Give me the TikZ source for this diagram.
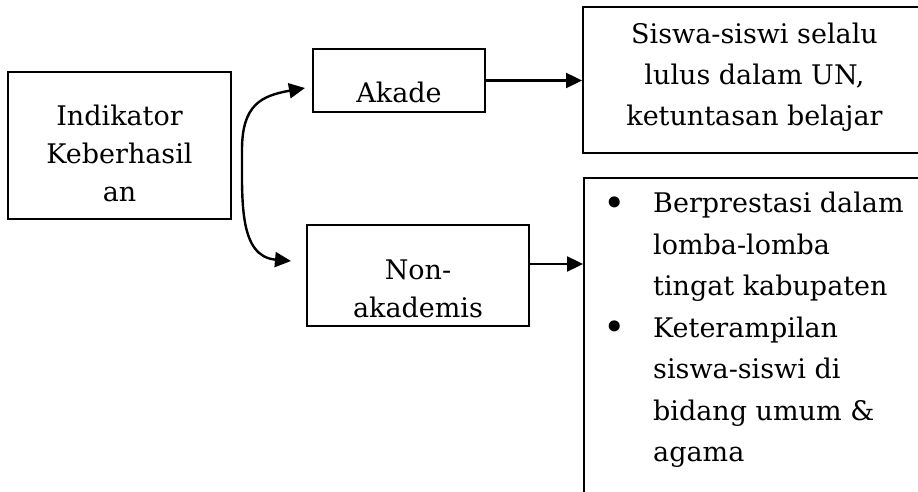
\documentclass[tikz,border=0pt]{standalone}
\usepackage{fontspec}
\setmainfont{DejaVu Serif}
\usetikzlibrary{arrows.meta}

\newcommand{\butir}{\makebox[51pt][l]{\hspace{1pt}{\fontsize{38}{38}\selectfont\raisebox{-3.5pt}{\textbullet}}}}

\begin{document}
\begin{tikzpicture}[x=1pt,y=1pt,>={Triangle[length=16pt,width=15pt]},
  kotak/.style={draw,line width=2pt,inner sep=0pt},
  teks/.style={inner sep=0pt,align=center,font=\fontsize{27}{38}\selectfont},
  panah/.style={->,line width=2.4pt}]
  \useasboundingbox (0,0) rectangle (918,491);
  \clip (0,0) rectangle (918,491);
  \node[kotak,minimum width=223pt,minimum height=147pt,
    label={[teks,yshift=-7.5pt]center:{Indikator\\Keberhasil\\an}}] (1) at (119.5,345.5) {};
  \node[kotak,minimum width=172pt,minimum height=63pt,
    label={[teks,yshift=-11.5pt]center:{Akade}}] (2) at (399,410.5) {};
  \node[kotak,minimum width=222pt,minimum height=101pt,
    label={[teks,yshift=-13.5pt]center:{Non-\\akademis}}] (3) at (418,215.5) {};
  \node[kotak,minimum width=343pt,minimum height=146pt,
    label={[teks,font=\fontsize{27}{41}\selectfont,yshift=3pt]center:{Siswa-siswi selalu\\lulus dalam UN,\\ketuntasan belajar}}] (4) at (754.5,411) {};
  \node[kotak,anchor=north west,minimum width=343pt,minimum height=333pt,
    label={[teks,align=left,font=\fontsize{27}{41.5}\selectfont,anchor=north west,xshift=19pt,yshift=-15pt]north west:{%
      \butir Berprestasi dalam\\
      \hspace*{51pt}lomba-lomba\\
      \hspace*{51pt}tingat kabupaten\\
      \butir Keterampilan\\
      \hspace*{51pt}siswa-siswi di\\
      \hspace*{51pt}bidang umum \&\\
      \hspace*{51pt}agama}}] (5) at (583,314) {};

  \coordinate (pangkal) at ([xshift=10pt,yshift=-4.5pt]1.east);
  \draw[panah] (pangkal) to[out=90,in=190,looseness=1.3] ([xshift=-7pt,yshift=-7.5pt]2.west);
  \draw[panah] (pangkal) to[out=-90,in=175,looseness=1.1] ([xshift=-15pt,yshift=14.5pt]3.west);
  \draw[panah] (2.east) -- (2.east -| 4.west);
  \draw[panah] ([yshift=11.5pt]3.east) -- ([yshift=11.5pt]3.east -| 5.west);
\end{tikzpicture}
\end{document}
